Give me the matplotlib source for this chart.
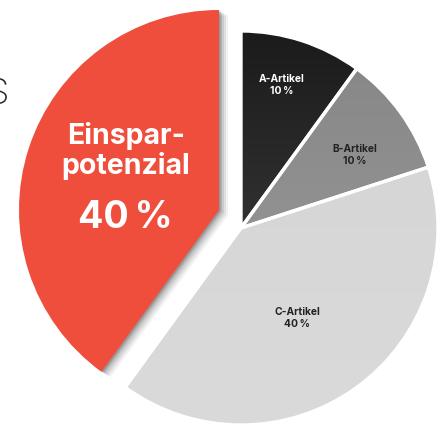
import numpy as np
import matplotlib
matplotlib.use("Agg")
import matplotlib.pyplot as plt
from matplotlib.patches import Wedge
from matplotlib.colors import LinearSegmentedColormap

# ---- data ----
categories = ["A-Artikel", "B-Artikel", "C-Artikel", "Einsparpotenzial"]
values = [10, 10, 40, 40]
pct_labels = ["10\u2009%", "10\u2009%", "40\u2009%", "40\u2009%"]

W, H = 443, 430
fig = plt.figure(figsize=(W / 100, H / 100), dpi=100)
ax = fig.add_axes([0, 0, 1, 1])

cx, cy, R = 241, 228, 197
red_center = (219, 210)
red_R = 200

colors = ["#262626", "#929292", "#d7d7d7", "#ef4e3d"]

wedges, _ = ax.pie(values, colors=colors, startangle=-90, counterclock=True,
                   center=(cx, cy), radius=R, frame=True,
                   wedgeprops=dict(edgecolor="white", linewidth=2.4))
ax.set_xlim(0, W)
ax.set_ylim(H, 0)
ax.set_aspect("equal")
ax.axis("off")

red = wedges[3]
red.set_center(red_center)
red.set_radius(red_R)
red.set_edgecolor("none")
red.set_zorder(5)

# drop shadow for red wedge
for off, a in [(9, 0.05), (7, 0.07), (5, 0.09), (3, 0.12), (1.5, 0.15)]:
    sh = Wedge((red_center[0] + off, red_center[1] + off * 0.6), red_R,
               red.theta1, red.theta2, facecolor="black", alpha=a,
               edgecolor="none", zorder=4)
    ax.add_patch(sh)
under = Wedge((red_center[0] + 2, red_center[1] + 1), red_R + 3, red.theta1, red.theta2,
              facecolor="white", edgecolor="none", zorder=3.5)
ax.add_patch(under)

# vertical gradients for the grey wedges
grads = {0: ("#1b1b1b", "#474747"), 1: ("#868686", "#9d9d9d"), 2: ("#d4d4d4", "#dadada")}
for i, (c1, c2) in grads.items():
    w = wedges[i]
    cmap = LinearSegmentedColormap.from_list("g%d" % i, [c1, c2])
    grad = np.linspace(0, 1, 256).reshape(-1, 1)
    im = ax.imshow(grad, cmap=cmap, extent=(cx - R, cx + R, cy + R, cy - R),
                   aspect="auto", zorder=1.5, origin="upper")
    im.set_clip_path(w)
    w.set_facecolor("none")
    w.set_zorder(2)

ax.set_xlim(0, W)
ax.set_ylim(H, 0)

fam = ["Inter", "DejaVu Sans"]
small = dict(fontsize=7.4, fontweight="bold", ha="center", va="center",
             linespacing=1.3, family=fam, zorder=6)
ax.text(282, 85, categories[0] + "\n" + pct_labels[0], color="white", **small)
ax.text(355, 155, categories[1] + "\n" + pct_labels[1], color="#222222", **small)
ax.text(297, 318, categories[2] + "\n" + pct_labels[2], color="#222222", **small)
ax.text(126, 151, "Einspar-\npotenzial", color="white", fontsize=20.5,
        fontweight="bold", ha="center", va="center", linespacing=1.12, family=fam, zorder=6)
ax.text(125, 218, pct_labels[3], color="white", fontsize=27,
        fontweight="bold", ha="center", va="center", family=fam, zorder=6)

# partially visible letter at the left edge (cropped in the original too)
ax.text(9, 95, "S", color="#2a2a2a", fontsize=26, fontweight="light",
        ha="right", va="center", family=fam, zorder=6)

fig.savefig("out.png", dpi=100)
